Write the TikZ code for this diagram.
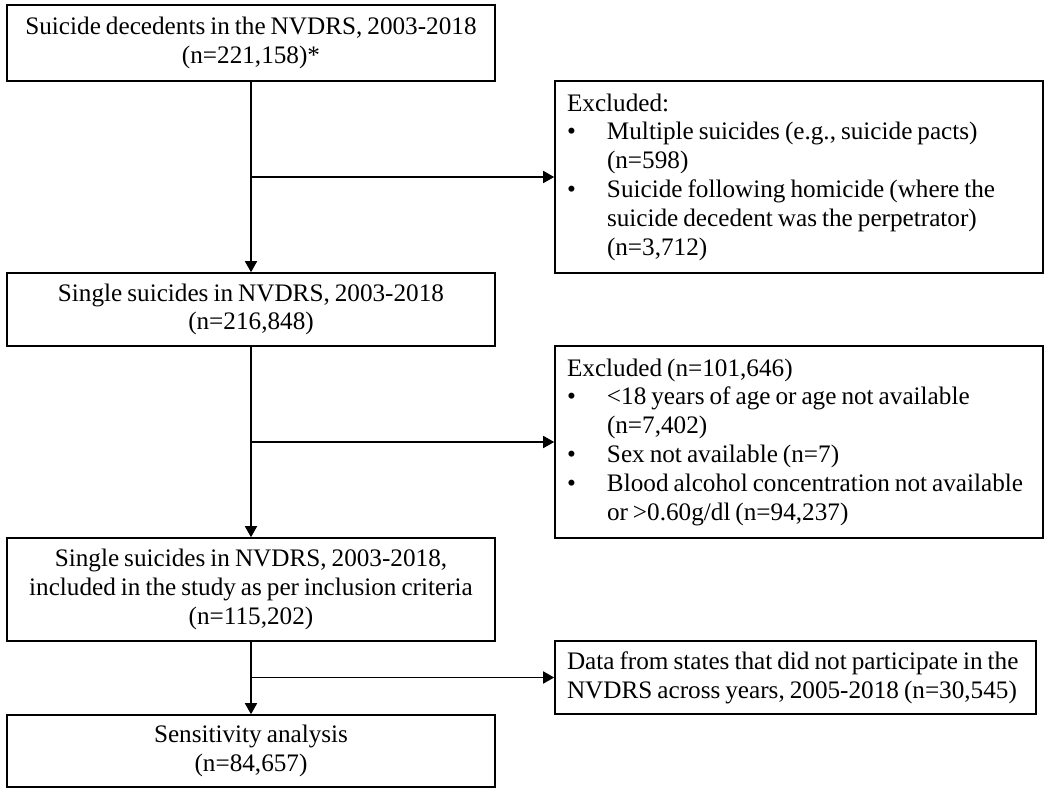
\documentclass[tikz,border=0pt]{standalone}
\usepackage{fontspec}
\setmainfont{Liberation Serif}
\usetikzlibrary{arrows.meta}
\newcommand{\bul}{\makebox[20pt][l]{\textbullet}}
\newcommand{\ind}{\hspace*{20pt}}

\begin{document}
\begin{tikzpicture}[x=0.5pt,y=-0.5pt,
    every node/.style={font=\fontsize{12.6}{14.4}\selectfont,line width=0.8pt,
        execute at begin node={\spaceskip=2.5pt\relax}},
    box/.style={draw,align=center,text width=232pt,inner xsep=6pt},
    exbox/.style={draw,align=left,text width=232pt,inner xsep=6pt},
    arr/.style={line width=0.8pt,-{Triangle[length=5.5pt,width=6pt]}}
]
    \useasboundingbox (0,0) rectangle (1050,794);
    % main column
    \node[box,minimum height=38pt] (all) at (251,43)
        {Suicide decedents in the NVDRS, 2003-2018\\(n=221,158)*};
    \node[box,minimum height=36.5pt] (single) at (251,309.5)
        {Single suicides in NVDRS, 2003-2018\\(n=216,848)};
    \node[box,minimum height=51.5pt] (study) at (251,589.5)
        {Single suicides in NVDRS, 2003-2018,\\included in the study as per inclusion criteria\\(n=115,202)};
    \node[box,minimum height=36pt] (sens) at (251,751)
        {Sensitivity analysis\\(n=84,657)};
    % exclusions
    \node[exbox,minimum height=96pt] (exa) at (799,177)
        {Excluded:\\
         \bul Multiple suicides (e.g., suicide pacts)\\
         \ind (n=598)\\
         \bul Suicide following homicide (where the\\
         \ind suicide decedent was the perpetrator)\\
         \ind (n=3,712)};
    \node[exbox,minimum height=96pt] (exb) at (799,442)
        {Excluded (n=101,646)\\
         \bul <18 years of age or age not available\\
         \ind (n=7,402)\\
         \bul Sex not available (n=7)\\
         \bul \mbox{Blood alcohol concentration not available}\\
         \ind or >0.60g/dl (n=94,237)};
    \node[exbox,text width=228.5pt,minimum height=36.5pt] (exc) at (795.5,677.5)
        {\mbox{Data from states that did not participate in the}\\
         \mbox{NVDRS across years, 2005-2018 (n=30,545)}};

    \draw[arr](all)--(single);
    \draw[arr](all |- exa.west)--(exa.west);
    \draw[arr](single)--(study);
    \draw[arr](single |- exb.west)--(exb.west);
    \draw[arr](study)--(sens);
    \draw[arr](study |- exc.west)--(exc.west);
\end{tikzpicture}
\end{document}
